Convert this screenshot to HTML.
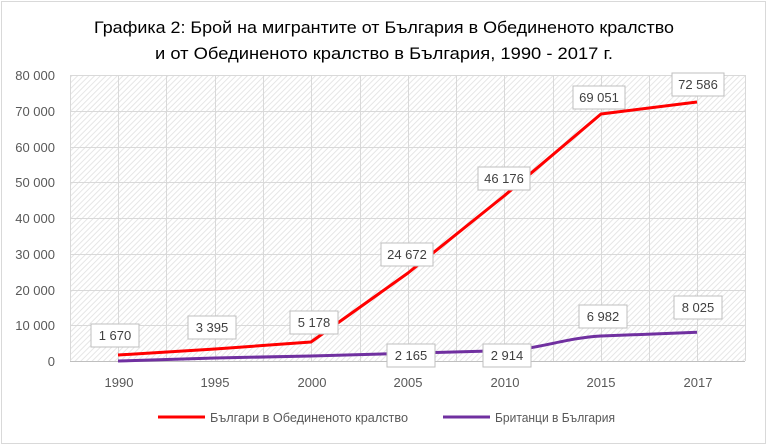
<!DOCTYPE html>
<html><head><meta charset="utf-8"><style>
html,body{margin:0;padding:0;background:#fff;}
svg{display:block;font-family:"Liberation Sans","DejaVu Sans",sans-serif;}
</style></head><body>
<svg width="768" height="446" viewBox="0 0 768 446" xmlns="http://www.w3.org/2000/svg">
<defs>
<pattern id="h" width="4" height="4" patternUnits="userSpaceOnUse" patternTransform="rotate(45)">
<rect width="4" height="4" fill="#fff"/><rect width="1" height="4" fill="#e6e6e6"/>
</pattern>
</defs>
<rect x="1.5" y="1.5" width="764" height="442" fill="#fff" stroke="#d9d9d9"/>
<text x="384" y="33" font-size="17" text-anchor="middle" fill="#000" textLength="580" lengthAdjust="spacingAndGlyphs">Графика 2: Брой на мигрантите от България в Обединеното кралство</text>
<text x="384" y="59" font-size="17" text-anchor="middle" fill="#000" textLength="458" lengthAdjust="spacingAndGlyphs">и от Обединеното кралство в България, 1990 - 2017 г.</text>
<rect x="70" y="75" width="675" height="286" fill="url(#h)"/>
<g stroke="#d9d9d9" stroke-width="1">
<line x1="70" y1="75.5" x2="745" y2="75.5"/><line x1="70" y1="111.5" x2="745" y2="111.5"/>
<line x1="70" y1="147.5" x2="745" y2="147.5"/><line x1="70" y1="182.5" x2="745" y2="182.5"/>
<line x1="70" y1="218.5" x2="745" y2="218.5"/><line x1="70" y1="254.5" x2="745" y2="254.5"/>
<line x1="70" y1="290.5" x2="745" y2="290.5"/><line x1="70" y1="325.5" x2="745" y2="325.5"/>
<line x1="70.5" y1="75" x2="70.5" y2="361"/><line x1="118.5" y1="75" x2="118.5" y2="361"/>
<line x1="166.5" y1="75" x2="166.5" y2="361"/><line x1="215.5" y1="75" x2="215.5" y2="361"/>
<line x1="263.5" y1="75" x2="263.5" y2="361"/><line x1="311.5" y1="75" x2="311.5" y2="361"/>
<line x1="360.5" y1="75" x2="360.5" y2="361"/><line x1="408.5" y1="75" x2="408.5" y2="361"/>
<line x1="456.5" y1="75" x2="456.5" y2="361"/><line x1="504.5" y1="75" x2="504.5" y2="361"/>
<line x1="553.5" y1="75" x2="553.5" y2="361"/><line x1="601.5" y1="75" x2="601.5" y2="361"/>
<line x1="649.5" y1="75" x2="649.5" y2="361"/><line x1="697.5" y1="75" x2="697.5" y2="361"/>
<line x1="745.5" y1="75" x2="745.5" y2="361"/>
</g>
<line x1="70" y1="361.5" x2="745" y2="361.5" stroke="#bfbfbf"/>
<g font-size="13" fill="#595959" text-anchor="end">
<text x="55" y="80">80 000</text><text x="55" y="116">70 000</text><text x="55" y="152">60 000</text>
<text x="55" y="187">50 000</text><text x="55" y="223">40 000</text><text x="55" y="259">30 000</text>
<text x="55" y="295">20 000</text><text x="55" y="330">10 000</text><text x="55" y="366">0</text>
</g>
<g font-size="13" fill="#595959" text-anchor="middle">
<text x="119" y="387">1990</text><text x="215" y="387">1995</text><text x="312" y="387">2000</text>
<text x="408" y="387">2005</text><text x="505" y="387">2010</text><text x="601" y="387">2015</text><text x="698" y="387">2017</text>
</g>
<polyline fill="none" stroke="#ff0000" stroke-width="3" stroke-linejoin="round" points="118,355 215,349 311,342 408,273 504,196 601,114 697,102"/>
<path fill="none" stroke="#7030a0" stroke-width="3" stroke-linejoin="round" d="M118,361 L215,358 L311,356 L408,353.3 L504,350.6 C540,349 565,338 601,336 L697,332.3"/>
<g font-size="13" fill="#404040" text-anchor="middle">
<g><rect x="91" y="324" width="48" height="23" fill="#fff" stroke="#bfbfbf"/><text x="115" y="340">1 670</text></g>
<g><rect x="188" y="316" width="48" height="23" fill="#fff" stroke="#bfbfbf"/><text x="212" y="332">3 395</text></g>
<g><rect x="290" y="311" width="48" height="23" fill="#fff" stroke="#bfbfbf"/><text x="314" y="327">5 178</text></g>
<g><rect x="381" y="243" width="52" height="23" fill="#fff" stroke="#bfbfbf"/><text x="407" y="259">24 672</text></g>
<g><rect x="478" y="167" width="52" height="23" fill="#fff" stroke="#bfbfbf"/><text x="504" y="183">46 176</text></g>
<g><rect x="573" y="86" width="52" height="23" fill="#fff" stroke="#bfbfbf"/><text x="599" y="102">69 051</text></g>
<g><rect x="672" y="73" width="52" height="23" fill="#fff" stroke="#bfbfbf"/><text x="698" y="89">72 586</text></g>
<g><rect x="387" y="344" width="48" height="23" fill="#fff" stroke="#bfbfbf"/><text x="411" y="360">2 165</text></g>
<g><rect x="483" y="344" width="48" height="23" fill="#fff" stroke="#bfbfbf"/><text x="507" y="360">2 914</text></g>
<g><rect x="579" y="305" width="48" height="23" fill="#fff" stroke="#bfbfbf"/><text x="603" y="321">6 982</text></g>
<g><rect x="674" y="296" width="48" height="23" fill="#fff" stroke="#bfbfbf"/><text x="698" y="312">8 025</text></g>
</g>
<line x1="158" y1="417" x2="205" y2="417" stroke="#ff0000" stroke-width="3"/>
<text x="210" y="422" font-size="13" fill="#595959" textLength="198" lengthAdjust="spacingAndGlyphs">Българи в Обединеното кралство</text>
<line x1="443" y1="417" x2="490" y2="417" stroke="#7030a0" stroke-width="3"/>
<text x="495" y="422" font-size="13" fill="#595959" textLength="120" lengthAdjust="spacingAndGlyphs">Британци в България</text>
</svg>
</body></html>
